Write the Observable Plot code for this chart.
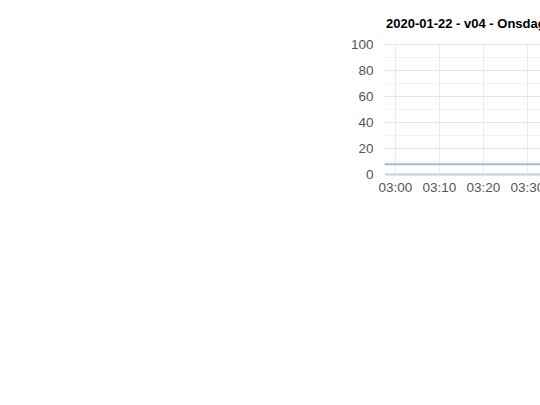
<!DOCTYPE html>
<html>
<head>
<meta charset="utf-8">
<script src="https://cdn.jsdelivr.net/npm/d3@7"></script>
<script src="https://cdn.jsdelivr.net/npm/@observablehq/plot@0.6"></script>
<style>
  html, body { margin: 0; padding: 0; background: #fff; overflow: hidden; width: 540px; height: 405px; }
  #wrap { position: absolute; left: 0; top: 0; width: 760px; }
  #title { height: 18px; padding-top: 16px; padding-left: 386px; font: bold 13px "Liberation Sans", Arial, sans-serif; line-height: 15px; color: #000; white-space: nowrap; }
  #chart svg { display: block; overflow: visible; }
</style>
</head>
<body>
<div id="wrap">
  <div id="title"></div>
  <div id="chart"></div>
</div>
<script>
const title = "2020-01-22 - v04 - Onsdag";
const times = ["02:57:44", "03:00:00", "03:05:00", "03:10:00", "03:15:00", "03:20:00", "03:25:00", "03:30:00", "03:35:00", "03:40:00", "03:45:00", "03:50:00", "03:55:00", "04:00:00", "04:05:00", "04:10:00", "04:15:00", "04:20:00", "04:23:00"];
const values = [7.8, 7.8, 7.8, 7.8, 7.8, 7.8, 7.8, 7.8, 7.8, 7.8, 7.8, 7.8, 7.8, 7.8, 7.8, 7.8, 7.8, 7.8, 7.8];
const yTicks = [0, 20, 40, 60, 80, 100];
const yMinor = [10, 30, 50, 70, 90];
const xTickLabels = ["03:00:00", "03:10:00", "03:20:00", "03:30:00", "03:40:00", "03:50:00", "04:00:00", "04:10:00", "04:20:00"];

const parse = s => new Date(`2020-01-22T${s}`);
const data = times.map((t, i) => ({time: parse(t), value: values[i]}));
const xTicks = xTickLabels.map(parse);
const fmt = d3.timeFormat("%H:%M");

document.getElementById("title").textContent = title;

const chart = Plot.plot({
  width: 760,
  height: 170,
  marginLeft: 385,
  marginRight: 0,
  marginTop: 10,
  marginBottom: 30,
  style: {fontFamily: "'Liberation Sans', Arial, sans-serif", fontSize: "13px", color: "#666", background: "#fff"},
  x: {type: "time", domain: [data[0].time, data[data.length - 1].time], label: null},
  y: {domain: [0, 100], label: null},
  marks: [
    Plot.ruleY(yMinor, {stroke: "#f2f2f2", strokeWidth: 1}),
    Plot.ruleY(yTicks.filter(d => d > 0), {stroke: "#e6e6e6", strokeWidth: 1}),
    Plot.ruleX(xTicks, {stroke: "#ebebeb", strokeWidth: 1}),
    Plot.ruleY([0], {stroke: "#ccc", strokeWidth: 2}),
    Plot.lineY(data, {x: "time", y: "value", stroke: "#a3b6d8", strokeWidth: 2}),
    Plot.axisY({ticks: yTicks, tickSize: 0, tickPadding: 12, fontSize: 13.5, fill: "#555", label: null}),
    Plot.axisX({ticks: xTicks, tickSize: 0, tickPadding: 8, fontSize: 13.5, fill: "#555", tickFormat: fmt, label: null})
  ]
});
document.getElementById("chart").appendChild(chart);
</script>
</body>
</html>
